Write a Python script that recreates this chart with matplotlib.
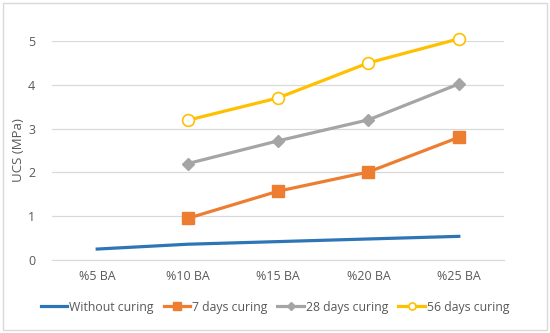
import matplotlib
matplotlib.use("Agg")
import matplotlib.pyplot as plt
import numpy as np

categories = ["%5 BA", "%10 BA", "%15 BA", "%20 BA", "%25 BA"]
without_curing = [0.25, 0.36, 0.42, 0.48, 0.54]
days7 = [None, 0.95, 1.57, 2.01, 2.80]
days28 = [None, 2.20, 2.72, 3.20, 4.02]
days56 = [None, 3.19, 3.70, 4.50, 5.05]

plt.rcParams['font.family'] = ['Open Sans', 'DejaVu Sans']
W, H = 550, 333
fig = plt.figure(figsize=(W/100, H/100), dpi=100)
ax = fig.add_axes([52/W, 1-260/H, (504-52)/W, (260-41)/H])

x = np.arange(len(categories))
def arr(v):
    return np.array([np.nan if a is None else a for a in v], dtype=float)

ax.plot(x, arr(without_curing), color="#2E75B6", lw=2.3, label="Without curing", clip_on=False, zorder=3)
ax.plot(x, arr(days7), color="#ED7D31", lw=2.3, marker="s", ms=8.5, label="7 days curing", clip_on=False, zorder=3)
ax.plot(x, arr(days28), color="#A5A5A5", lw=2.3, marker="D", ms=6.5, label="28 days curing", clip_on=False, zorder=3)
ax.plot(x, arr(days56), color="#FFC000", lw=2.3, marker="o", ms=8.5, mfc="white", mew=1.2,
        label="56 days curing", clip_on=False, zorder=3)

ax.set_xlim(-0.5, len(categories)-0.5)
ax.set_ylim(0, 5)
ax.set_yticks(range(0, 6))
ax.set_xticks(x)
ax.set_xticklabels(categories)
ax.grid(axis='y', color="#D9D9D9", lw=0.9)
ax.set_axisbelow(True)
for s in ["top", "right", "left"]:
    ax.spines[s].set_visible(False)
ax.spines["bottom"].set_color("#D9D9D9")
ax.tick_params(length=0, colors="#595959", labelsize=9)
ax.tick_params(axis='y', pad=12)
ax.tick_params(axis='x', pad=7)
fig.text(18/W, 1-150/H, "UCS (MPa)", color="#595959", fontsize=9.5, rotation=90,
         ha="center", va="center")

leg = fig.legend(loc="center", bbox_to_anchor=(0.5, 1-307/H), ncol=4, frameon=False,
                 fontsize=8.8, handlelength=2.2, handletextpad=0.15, columnspacing=0.8,
                 labelcolor="#595959", markerscale=0.6)

fig.patches.append(plt.Rectangle((3/W, 3/H), 1-6/W, 1-6/H, transform=fig.transFigure,
                                 fill=False, edgecolor="#D9D9D9", lw=1))
fig.savefig("out.png", dpi=100)
